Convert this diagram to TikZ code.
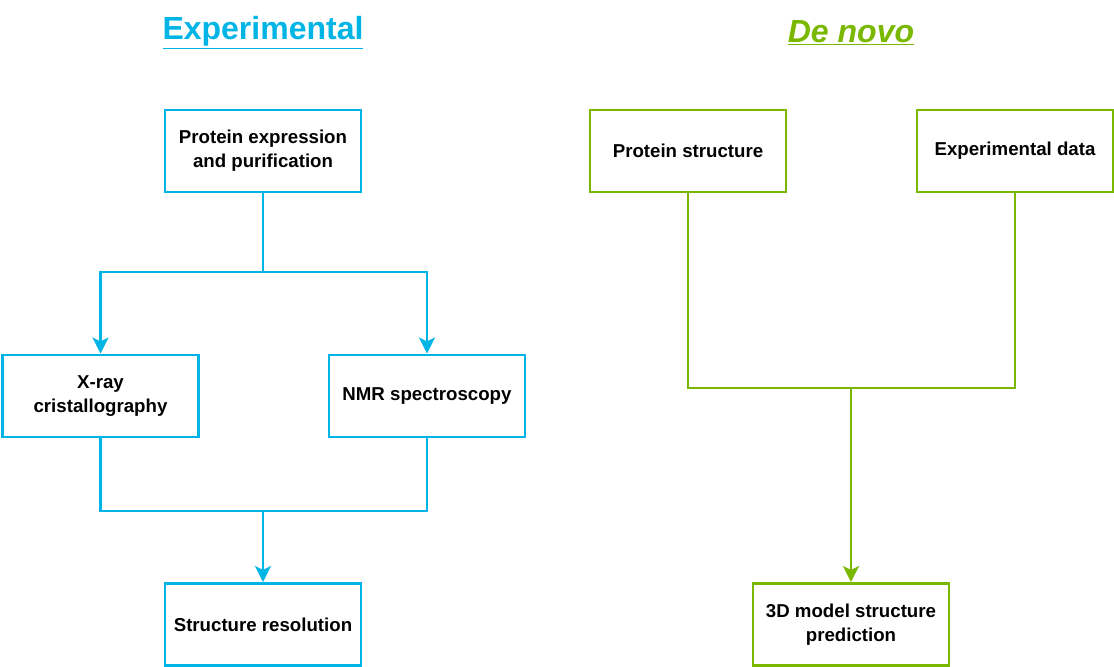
\documentclass[tikz,border=0pt]{standalone}
\usepackage{fontspec}
\setmainfont{Liberation Sans}
\usetikzlibrary{arrows.meta}
\definecolor{eb}{HTML}{00B4E6}
\definecolor{dg}{HTML}{7AB800}
\begin{document}
\begin{tikzpicture}[x=0.75pt,y=-0.75pt,
 box/.style={draw,line width=2.2pt,minimum width=147pt,minimum height=61.5pt,align=center,font=\bfseries\fontsize{14pt}{18pt}\selectfont,inner sep=0pt},
 bb/.style={box,draw=eb},gb/.style={box,draw=dg},
 bl/.style={eb,line width=2.2pt},gl/.style={dg,line width=2.2pt},
 arr/.style={-{Stealth[length=12pt,width=12pt,inset=3pt]}}]
\useasboundingbox (0,0) rectangle (1114,667);
\node[font=\bfseries\fontsize{24pt}{26pt}\selectfont,text=eb] (t1) at (263,33) {\underline{Experimental}};
\node[font=\bfseries\itshape\fontsize{24pt}{26pt}\selectfont,text=dg] (t2) at (851,33) {\underline{De novo}};
\node[bb] (pe) at (263,151) {Protein expression\\and purification};
\node[bb] (xr) at (100.5,396) {X-ray\\cristallography};
\node[bb] (nmr) at (427,396) {NMR spectroscopy};
\node[bb] (sr) at (263,624.5) {Structure resolution};
\node[gb] (ps) at (688,151) {Protein structure};
\node[gb] (ed) at (1015,151) {Experimental data};
\node[gb] (md) at (851,624.5) {3D model structure\\prediction};
\coordinate (j1) at (263,272);
\coordinate (j2) at (263,511);
\coordinate (j3) at (851,388);
\draw[bl] (pe.south) -- (j1);
\draw[bl,arr] (j1) -| (xr.north);
\draw[bl,arr] (j1) -| (nmr.north);
\draw[bl] (xr.south) |- (j2);
\draw[bl] (nmr.south) |- (j2);
\draw[bl,arr] (j2) -- (sr.north);
\draw[gl] (ps.south) |- (j3);
\draw[gl] (ed.south) |- (j3);
\draw[gl,arr] (j3) -- (md.north);
\end{tikzpicture}
\end{document}
